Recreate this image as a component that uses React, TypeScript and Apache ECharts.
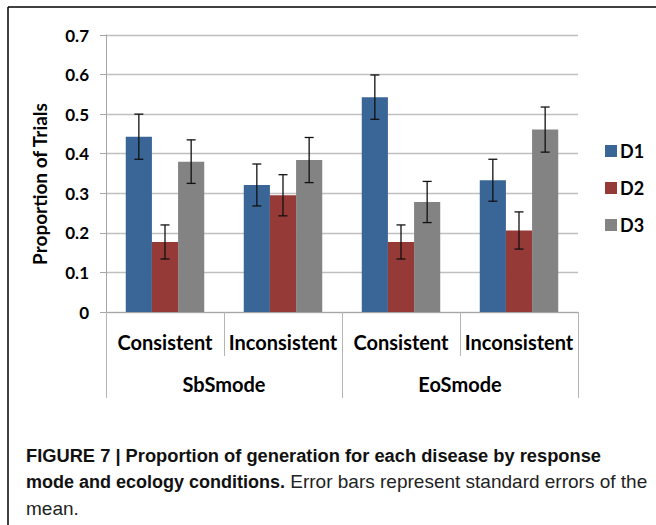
import React, { useEffect, useRef } from "react";
import * as echarts from "echarts";

const categories = ["Consistent", "Inconsistent", "Consistent", "Inconsistent"];
const groups = ["SbSmode", "EoSmode"];
const seriesNames = ["D1", "D2", "D3"];
const d1 = [0.443, 0.321, 0.543, 0.333];
const d2 = [0.177, 0.295, 0.177, 0.206];
const d3 = [0.38, 0.384, 0.278, 0.461];
const d1Err = [0.057, 0.053, 0.056, 0.053];
const d2Err = [0.043, 0.052, 0.043, 0.047];
const d3Err = [0.055, 0.057, 0.052, 0.057];
const yTicks = [0, 0.1, 0.2, 0.3, 0.4, 0.5, 0.6, 0.7];
const yAxisTitle = "Proportion of Trials";
const captionBold1 = "FIGURE 7 | Proportion of generation for each disease by response";
const captionBold2 = "mode and ecology conditions.";
const captionRegular2 = "Error bars represent standard errors of the";
const captionRegular3 = "mean.";

const colors = ["#3A6597", "#963A38", "#838383"];
const GAP = 0.335;
const chartFont = "Lato, 'Open Sans', sans-serif";
const capFont = "'Liberation Sans', Arial, sans-serif";

export default function App() {
  const ref = useRef<HTMLDivElement>(null);
  useEffect(() => {
    if (!ref.current) return;
    const chart = echarts.init(ref.current, null, { renderer: "svg" });
    const values = [d1, d2, d3];
    const errs = [d1Err, d2Err, d3Err];
    const barSeries = seriesNames.map((name, i) => ({
      name,
      type: "bar",
      data: values[i],
      barGap: "0%",
      barCategoryGap: GAP * 100 + "%",
      itemStyle: { color: colors[i] },
      xAxisIndex: 0,
      yAxisIndex: 0,
      z: 2,
    }));
    const errSeries = seriesNames.map((name, i) => ({
      name: name + " error",
      type: "custom",
      xAxisIndex: 0,
      yAxisIndex: 0,
      z: 5,
      data: values[i].map((v, k) => [k, v - errs[i][k], v + errs[i][k]]),
      encode: { x: 0, y: [1, 2] },
      renderItem: (params: any, api: any) => {
        const xi = api.value(0);
        const lo = api.coord([xi, api.value(1)]);
        const hi = api.coord([xi, api.value(2)]);
        const band = api.size([1, 0])[0];
        const bw = (band * (1 - GAP)) / 3;
        const cx = lo[0] + (i - 1) * bw;
        const hw = 4.5;
        const st = { stroke: "#111", lineWidth: 1.3 };
        return {
          type: "group",
          children: [
            { type: "line", shape: { x1: cx, y1: lo[1], x2: cx, y2: hi[1] }, style: st },
            { type: "line", shape: { x1: cx - hw, y1: lo[1], x2: cx + hw, y2: lo[1] }, style: st },
            { type: "line", shape: { x1: cx - hw, y1: hi[1], x2: cx + hw, y2: hi[1] }, style: st },
          ],
        };
      },
    }));
    chart.setOption({
      animation: false,
      textStyle: { fontFamily: chartFont },
      grid: { left: 106, right: 78, top: 35, bottom: 213, containLabel: false },
      legend: {
        data: seriesNames,
        orient: "vertical",
        left: 600,
        top: 137,
        itemWidth: 12,
        itemHeight: 12,
        itemGap: 19,
        icon: "rect",
        textStyle: { fontFamily: chartFont, fontWeight: "bold", fontSize: 18, color: "#000", padding: [0, 0, 0, -2] },
      },
      xAxis: [
        {
          type: "category",
          data: categories,
          gridIndex: 0,
          position: "bottom",
          axisLine: { show: true, lineStyle: { color: "#a6a6a6", width: 1 } },
          axisTick: { show: true, interval: 0, length: 44, alignWithLabel: false, lineStyle: { color: "#b5b5b5" } },
          axisLabel: { interval: 0, hideOverlap: false, margin: 20, color: "#000", fontSize: 20, fontWeight: "bold", fontFamily: chartFont },
        },
        {
          type: "category",
          data: groups,
          gridIndex: 0,
          position: "bottom",
          axisLine: { show: false },
          axisTick: { show: true, interval: 0, length: 86, alignWithLabel: false, lineStyle: { color: "#b5b5b5" } },
          axisLabel: { interval: 0, margin: 62, color: "#000", fontSize: 20, fontWeight: "bold", fontFamily: chartFont },
        },
      ],
      yAxis: {
        type: "value",
        min: yTicks[0],
        max: yTicks[yTicks.length - 1],
        interval: 0.1,
        axisLine: { show: true, lineStyle: { color: "#a6a6a6" } },
        axisTick: { show: true, length: 6, lineStyle: { color: "#a6a6a6" } },
        axisLabel: {
          margin: 17,
          color: "#000",
          fontSize: 17,
          fontWeight: "bold",
          fontFamily: chartFont,
          formatter: (v: number) => (Math.abs(v) < 1e-9 ? "0" : v.toFixed(1)),
        },
        splitLine: { show: true, lineStyle: { color: "#bfbfbf", width: 1.3 } },
      },
      graphic: [
        { type: "line", shape: { x1: 8, y1: 7, x2: 8, y2: 525 }, style: { stroke: "#000", lineWidth: 1.5 } },
        { type: "line", shape: { x1: 8, y1: 7, x2: 656, y2: 7 }, style: { stroke: "#000", lineWidth: 1.5 } },
        {
          type: "text",
          x: 39,
          y: 184,
          rotation: Math.PI / 2,
          style: {
            text: yAxisTitle,
            fontFamily: chartFont,
            fontWeight: "bold",
            fontSize: 19,
            fill: "#000",
            align: "center",
            verticalAlign: "middle",
          },
        },
        {
          type: "text",
          left: 26,
          top: 446,
          style: { text: captionBold1, fontFamily: capFont, fontWeight: "bold", fontSize: 18.3, fill: "#111" },
        },
        {
          type: "text",
          left: 26,
          top: 472,
          style: {
            text: "{b|" + captionBold2 + "} {r|" + captionRegular2 + "}",
            rich: {
              b: { fontFamily: capFont, fontWeight: "bold", fontSize: 18, fill: "#111" },
              r: { fontFamily: capFont, fontWeight: "normal", fontSize: 19, fill: "#222" },
            },
            fontFamily: capFont,
            fontSize: 19,
          },
        },
        {
          type: "text",
          left: 26,
          top: 499,
          style: { text: captionRegular3, fontFamily: capFont, fontSize: 19, fill: "#222" },
        },
      ],
      series: [...barSeries, ...errSeries],
    });
    return () => chart.dispose();
  }, []);
  return (
    <div
      ref={ref}
      style={{ position: "fixed", left: 0, top: 0, width: 656, height: 525, background: "#fff" }}
    />
  );
}
